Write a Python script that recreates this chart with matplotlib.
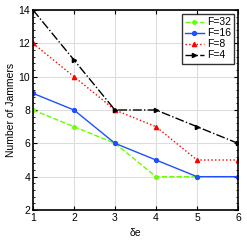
import numpy as np
import matplotlib.pyplot as plt
from matplotlib.ticker import AutoMinorLocator

# data
delta_e = [1, 2, 3, 4, 5, 6]
f32 = [8, 7, 6, 4, 4, 4]
f16 = [9, 8, 6, 5, 4, 4]
f8 = [12, 10, 8, 7, 5, 5]
f4 = [14, 11, 8, 8, 7, 6]

plt.rcParams['font.family'] = ['Liberation Sans', 'DejaVu Sans']
plt.rcParams['font.size'] = 7.5

fig = plt.figure(figsize=(2.47, 2.44), dpi=100)
ax = fig.add_axes([33/247, 1 - 210/244, 205/247, 200/244])

ax.plot(delta_e, f32, '--', color='#66ff00', marker='o', ms=2.5, lw=1, label='F=32')
ax.plot(delta_e, f16, '-', color='#1f4fff', marker='o', ms=2.8, lw=1, label='F=16')
ax.plot(delta_e, f8, ':', color='#ff0000', marker='^', ms=3, lw=1, label='F=8')
ax.plot(delta_e, f4, '-.', color='black', marker='>', ms=3, lw=1, label='F=4')

ax.set_xlim(1, 6)
ax.set_ylim(2, 14)
ax.set_xticks([1, 2, 3, 4, 5, 6])
ax.set_yticks([2, 4, 6, 8, 10, 12, 14])
ax.yaxis.set_minor_locator(AutoMinorLocator(5))
ax.grid(True, color='#dddddd', lw=0.8)
ax.set_axisbelow(True)
ax.tick_params(direction='in', length=3, width=0.8, right=True, top=True, pad=2)
ax.tick_params(which='minor', direction='in', length=1.5, right=True, left=True)
for s in ax.spines.values():
    s.set_linewidth(1.2)

ax.set_xlabel('δe', labelpad=4)
ax.set_ylabel('Number of Jammers', labelpad=2)

leg = ax.legend(loc='upper right', fancybox=False, edgecolor='black',
                handlelength=1.8, borderpad=0.3, labelspacing=0.1,
                borderaxespad=0.4, handletextpad=0.3)
leg.get_frame().set_linewidth(1.0)

fig.savefig('out.png', dpi=100)
